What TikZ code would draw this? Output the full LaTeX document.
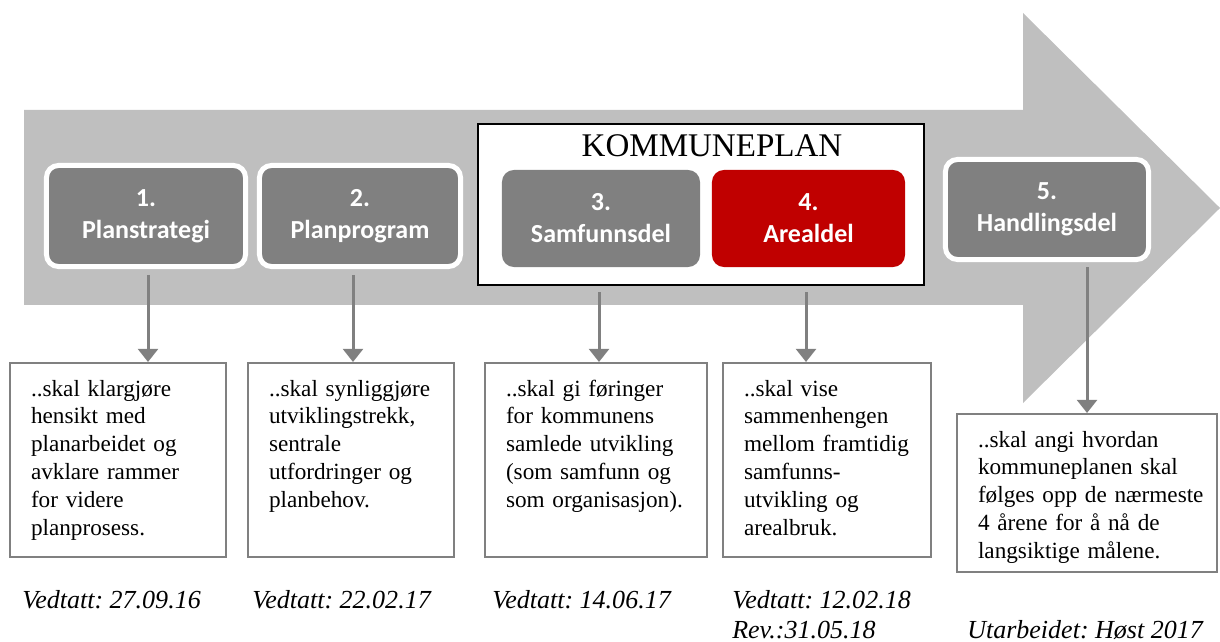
\documentclass[tikz,border=0pt]{standalone}
\usepackage{fontspec}
\setmainfont{Liberation Serif}
\newfontfamily\boxfont{Carlito}
\usepackage{tikz}
\usepackage{xcolor}
\usetikzlibrary{positioning, arrows.meta, calc}
\frenchspacing

\definecolor{bandgray}{HTML}{BFBFBF}
\definecolor{boxgray}{HTML}{808080}
\definecolor{planred}{HTML}{C00000}

\tikzset{
  stage/.style={rectangle, rounded corners=0.3cm, fill=boxgray, text=white, align=center,
    inner sep=0pt, outer sep=0pt, font=\boxfont\fontsize{18.5}{22.75}\selectfont\bfseries},
  framed/.style={stage, draw=white, line width=0.125cm},
  descbox/.style={draw=boxgray, line width=0.05cm, fill=white, anchor=north west, align=left,
    inner xsep=0.525cm, inner ysep=0pt, text height=0.825cm, font=\fontsize{16.5}{19.9}\selectfont},
  datum/.style={anchor=base west, inner sep=0pt, font=\fontsize{18.5}{21}\selectfont\itshape},
  conn/.style={draw=boxgray, line width=0.075cm, -{Triangle[width=0.5cm,length=0.33cm]}}
}

\begin{document}
\begin{tikzpicture}[x=0.025cm, y=-0.025cm]
  \useasboundingbox (0,0) rectangle (1220,642);

  % big arrow in the background
  \fill[bandgray] (24,110) -- (1023,110) -- (1023,13) -- (1220,208) -- (1023,403)
    -- (1023,305) -- (24,305) -- cycle;

  % kommuneplan frame
  \node[draw=black, fill=white, line width=0.05cm, inner sep=0pt, outer sep=0pt,
    minimum width=11.15cm, minimum height=4.025cm] (kp) at (701,204.5) {};
  \node[anchor=base, inner sep=0pt, font=\fontsize{23.5}{28}\selectfont] (kptitle) at (712,157) {KOMMUNEPLAN};

  % the five plan stages
  \node[framed, minimum width=4.975cm, minimum height=2.525cm] (p1) at (146,216) {1.\\Planstrategi};
  \node[framed, minimum width=5.025cm, minimum height=2.525cm] (p2) at (360,216) {2.\\Planprogram};
  \node[stage, minimum width=4.95cm, minimum height=2.425cm] (p3) at (601,218.5) {3.\\Samfunnsdel};
  \node[stage, fill=planred, minimum width=4.825cm, minimum height=2.425cm] (p4) at (808.5,218.5) {4.\\Arealdel};
  \node[framed, minimum width=5.075cm, minimum height=2.5cm] (p5) at (1047,209.5) {5.\\Handlingsdel};

  % descriptions
  \node[descbox, text width=4.35cm, text depth=4.025cm] (t1) at (9,362)
    {..skal klargjøre\\hensikt med\\planarbeidet og\\avklare rammer\\for videre\\planprosess.};
  \node[descbox, text width=4.1cm, text depth=4.025cm] (t2) at (247,362)
    {..skal synliggjøre\\utviklingstrekk,\\sentrale\\utfordringer og\\planbehov.};
  \node[descbox, text width=4.5cm, text depth=4.025cm] (t3) at (484,362)
    {..skal gi føringer\\for kommunens\\samlede utvikling\\(som samfunn og\\som organisasjon).};
  \node[descbox, text width=4.15cm, text depth=4.025cm] (t4) at (722,362)
    {..skal vise\\sammenhengen\\mellom framtidig\\samfunns-\\utvikling og\\arealbruk.};
  \node[descbox, text width=5.45cm, text depth=3.125cm] (t5) at (956,413)
    {..skal angi hvordan\\kommuneplanen skal\\\mbox{følges opp de nærmeste}\\4 årene for å nå de\\langsiktige målene.};

  % arrows down
  \draw[conn] ([xshift=0.05cm,yshift=-0.21cm]p1.south) -- ([xshift=0.05cm]p1.south |- t1.north);
  \draw[conn] ([xshift=-0.175cm,yshift=-0.21cm]p2.south) -- ([xshift=-0.175cm]p2.south |- t2.north);
  \draw[conn] ([xshift=-0.05cm,yshift=-0.175cm]p3.south |- kp.south) -- ([xshift=-0.05cm]p3.south |- t3.north);
  \draw[conn] ([xshift=-0.0625cm,yshift=-0.175cm]p4.south |- kp.south) -- ([xshift=-0.0625cm]p4.south |- t4.north);
  \draw[conn] ([xshift=1cm,yshift=-0.19cm]p5.south) -- ([xshift=1cm]p5.south |- t5.north);

  % dates
  \node[datum] (d1) at (22,608) {Vedtatt: 27.09.16};
  \node[datum] (d2) at (252,608) {Vedtatt: 22.02.17};
  \node[datum] (d3) at (492,608) {Vedtatt: 14.06.17};
  \node[datum] (d4) at (732,608) {Vedtatt: 12.02.18};
  \node[datum] (d4r) at (732,638) {Rev.:31.05.18};
  \node[datum] (d5) at (967,638) {Utarbeidet: Høst 2017};
\end{tikzpicture}
\end{document}
